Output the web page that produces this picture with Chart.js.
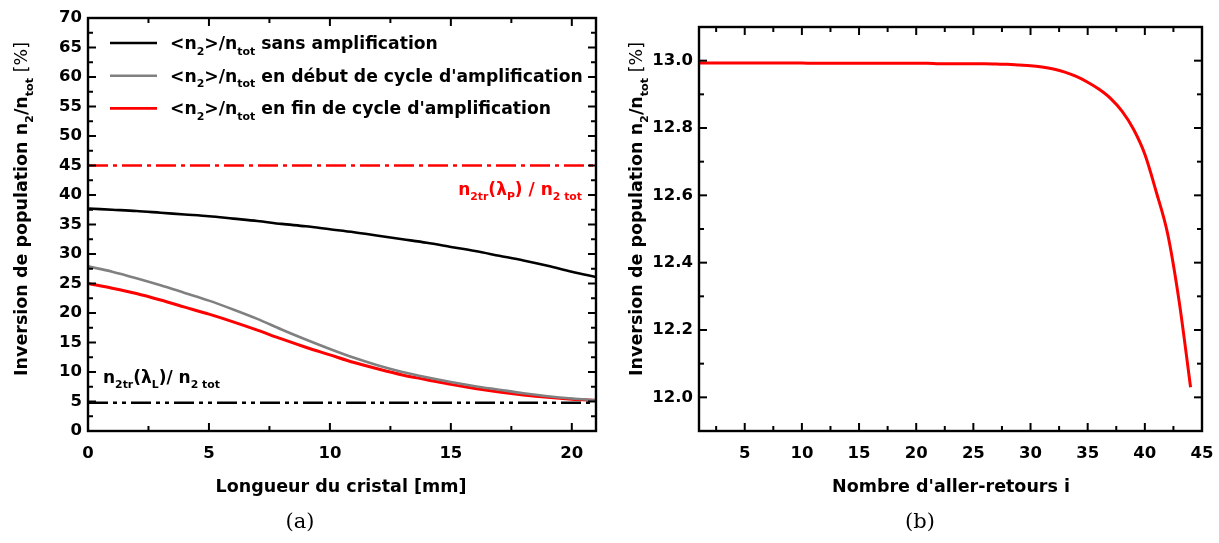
<!DOCTYPE html>
<html>
<head>
<meta charset="utf-8">
<script src="https://cdn.jsdelivr.net/npm/chart.js@4.4.0/dist/chart.umd.min.js"></script>
<style>
body { margin: 0; background: #fff; }
#page { position: relative; width: 1219px; height: 543px; }
canvas { position: absolute; top: 0; }
</style>
</head>
<body>
<div id="page">
  <canvas id="grapheA" width="610" height="543" style="left:0"></canvas>
  <canvas id="grapheB" width="609" height="543" style="left:610px"></canvas>
</div>
<script>
// (a) inversion le long du cristal
const longueur = [0, 1, 2, 3, 4, 5, 6, 7, 8, 9, 10, 11, 12, 13, 14, 15, 16, 17, 18, 19, 20, 21]
const sansAmplification = [37.7, 37.5, 37.3, 37.0, 36.7, 36.4, 36.0, 35.6, 35.1, 34.7, 34.2, 33.7, 33.1, 32.5, 31.9, 31.2, 30.5, 29.7, 28.9, 28.0, 27.0, 26.1]
const debutCycle = [27.9, 27.0, 25.9, 24.7, 23.4, 22.1, 20.6, 19.0, 17.2, 15.5, 13.9, 12.4, 11.1, 10.0, 9.1, 8.3, 7.6, 7.0, 6.4, 5.9, 5.5, 5.2]
const finCycle = [25.0, 24.2, 23.3, 22.2, 21.0, 19.8, 18.5, 17.1, 15.6, 14.2, 12.9, 11.6, 10.5, 9.5, 8.7, 7.9, 7.2, 6.6, 6.1, 5.7, 5.4, 5.2]
const seuilPompe = 45   // n2tr(lambda P) / n2 tot
const seuilLaser = 4.8  // n2tr(lambda L) / n2 tot

// (b) inversion en fonction du nombre d'aller-retours
const allerRetours = [1, 2, 3, 4, 5, 6, 7, 8, 9, 10, 11, 12, 13, 14, 15, 16, 17, 18, 19, 20, 21, 22, 23, 24, 25, 26, 27, 28, 29, 30, 31, 32, 33, 34, 35, 36, 37, 38, 39, 40, 41, 42, 43, 44]
const inversionB = [12.993, 12.993, 12.993, 12.993, 12.993, 12.993, 12.993, 12.993, 12.993, 12.993,
  12.992, 12.992, 12.992, 12.992, 12.992, 12.992, 12.992, 12.992, 12.992, 12.992,
  12.992, 12.991, 12.991, 12.991, 12.991, 12.991, 12.990, 12.989, 12.987, 12.985,
  12.981, 12.975, 12.966, 12.953, 12.936, 12.915, 12.888, 12.850, 12.797, 12.722,
  12.610, 12.485, 12.285, 12.030]

// graduations
const ticksAx = [0, 5, 10, 15, 20]
const mineursAx = [2.5, 7.5, 12.5, 17.5]
const ticksAy = [0, 5, 10, 15, 20, 25, 30, 35, 40, 45, 50, 55, 60, 65, 70]
const mineursAy = [2.5, 7.5, 12.5, 17.5, 22.5, 27.5, 32.5, 37.5, 42.5, 47.5, 52.5, 57.5, 62.5, 67.5]
const ticksBx = [5, 10, 15, 20, 25, 30, 35, 40, 45]
const mineursBx = [2.5, 7.5, 12.5, 17.5, 22.5, 27.5, 32.5, 37.5, 42.5]
const ticksBy = [12.0, 12.2, 12.4, 12.6, 12.8, 13.0]
const mineursBy = [12.1, 12.3, 12.5, 12.7, 12.9]

const POLICE = '"DejaVu Sans", "Liberation Sans", Arial, sans-serif'
const pts = (xs, ys) => xs.map((x, i) => ({ x: x, y: ys[i] }))

// texte avec indices : morceaux = [[texte, 'sub' | 'fin' | '']]
function ecrireRiche(ctx, morceaux, x, y, taille, align, couleur) {
  const mesures = morceaux.map(([txt, type]) => {
    const t = type === 'sub' ? taille * 0.64 : taille
    const poids = type === 'fin' ? 'normal' : 'bold'
    const police = poids + ' ' + t + 'px ' + POLICE
    ctx.font = police
    return { txt, police, dy: type === 'sub' ? taille * 0.32 : 0, w: ctx.measureText(txt).width }
  })
  const total = mesures.reduce((s, m) => s + m.w, 0)
  let cx = align === 'right' ? x - total : (align === 'center' ? x - total / 2 : x)
  ctx.textAlign = 'left'
  ctx.textBaseline = 'alphabetic'
  ctx.fillStyle = couleur || '#000'
  for (const m of mesures) {
    ctx.font = m.police
    ctx.fillText(m.txt, cx, y + m.dy)
    cx += m.w
  }
}

const titreY = [['Inversion de population n', ''], ['2', 'sub'], ['/n', ''], ['tot', 'sub'], [' [%]', 'fin']]

function pluginCadre(majX, minX, majY, minY, textes) {
  return {
    id: 'cadre',
    afterDatasetsDraw(chart) {
      const { ctx, chartArea: a, scales } = chart
      ctx.save()
      ctx.strokeStyle = '#000'
      ctx.lineWidth = 2
      const trait = (x1, y1, x2, y2) => { ctx.beginPath(); ctx.moveTo(x1, y1); ctx.lineTo(x2, y2); ctx.stroke() }
      for (const [vals, l] of [[majX, 8], [minX, 5]]) {
        for (const v of vals) {
          const p = scales.x.getPixelForValue(v)
          trait(p, a.bottom, p, a.bottom - l)
          trait(p, a.top, p, a.top + l)
        }
      }
      for (const [vals, l] of [[majY, 8], [minY, 5]]) {
        for (const v of vals) {
          const p = scales.y.getPixelForValue(v)
          trait(a.left, p, a.left + l, p)
          trait(a.right, p, a.right - l, p)
        }
      }
      ctx.lineWidth = 2.4
      ctx.strokeRect(a.left, a.top, a.right - a.left, a.bottom - a.top)
      ctx.restore()
    },
    afterDraw(chart) {
      chart.ctx.save()
      textes(chart)
      chart.ctx.restore()
    }
  }
}

const echelleX = (min, max, ticks) => ({
  type: 'linear', min: min, max: max,
  afterBuildTicks: s => { s.ticks = ticks.map(v => ({ value: v })) },
  afterFit: s => { s.height = 112; s.paddingLeft = 0; s.paddingRight = 0 },
  grid: { display: false, drawTicks: false },
  border: { display: false },
  ticks: { color: '#000', padding: 13, maxRotation: 0, font: { family: POLICE, size: 16.5, weight: 'bold' } }
})
const echelleY = (min, max, ticks, largeur, decimales) => ({
  type: 'linear', min: min, max: max,
  afterBuildTicks: s => { s.ticks = ticks.map(v => ({ value: v })) },
  afterFit: s => { s.width = largeur; s.paddingTop = 0; s.paddingBottom = 0 },
  grid: { display: false, drawTicks: false },
  border: { display: false },
  ticks: { color: '#000', padding: 6, font: { family: POLICE, size: 16.5, weight: 'bold' },
    callback: v => v.toFixed(decimales) }
})

const courbe = (data, couleur, extra) => Object.assign({
  data: data, borderColor: couleur, borderWidth: 2.6, pointRadius: 0,
  cubicInterpolationMode: 'monotone', fill: false
}, extra || {})

// ---------- graphe (a)
new Chart(document.getElementById('grapheA'), {
  type: 'line',
  data: {
    datasets: [
      courbe(pts([0, 21], [seuilPompe, seuilPompe]), '#ff0000', { borderDash: [20, 5, 4, 5] }),
      courbe(pts([0, 21], [seuilLaser, seuilLaser]), '#000', { borderDash: [20, 5, 4, 5, 4, 5] }),
      courbe(pts(longueur, sansAmplification), '#000'),
      courbe(pts(longueur, debutCycle), '#808080'),
      courbe(pts(longueur, finCycle), '#ff0000', { borderWidth: 3 })
    ]
  },
  options: {
    responsive: false, animation: false,
    layout: { padding: { top: 18, right: 14, left: 0, bottom: 0 } },
    plugins: { legend: { display: false }, tooltip: { enabled: false } },
    scales: { x: echelleX(0, 21, ticksAx), y: echelleY(0, 70, ticksAy, 88, 0) }
  },
  plugins: [pluginCadre(ticksAx, mineursAx, ticksAy, mineursAy, chart => {
    const ctx = chart.ctx
    const a = chart.chartArea
    // légende
    const lignes = [
      ['#000', [['<n', ''], ['2', 'sub'], ['>/n', ''], ['tot', 'sub'], [' sans amplification', '']]],
      ['#808080', [['<n', ''], ['2', 'sub'], ['>/n', ''], ['tot', 'sub'], [" en début de cycle d'amplification", '']]],
      ['#ff0000', [['<n', ''], ['2', 'sub'], ['>/n', ''], ['tot', 'sub'], [" en fin de cycle d'amplification", '']]]
    ]
    lignes.forEach(([c, txt], i) => {
      const y = a.top + 25 + i * 32.7
      ctx.strokeStyle = c
      ctx.lineWidth = 2.6
      ctx.beginPath(); ctx.moveTo(a.left + 22, y); ctx.lineTo(a.left + 69, y); ctx.stroke()
      ecrireRiche(ctx, txt, a.left + 82, y + 6, 17.2, 'left', '#000')
    })
    // seuils
    ecrireRiche(ctx, [['n', ''], ['2tr', 'sub'], ['(λ', ''], ['P', 'sub'], [') / n', ''], ['2 tot', 'sub']],
      a.right - 14, 195, 17, 'right', '#ff0000')
    ecrireRiche(ctx, [['n', ''], ['2tr', 'sub'], ['(λ', ''], ['L', 'sub'], [')/ n', ''], ['2 tot', 'sub']],
      a.left + 15, 383, 17, 'left', '#000')
    // titres
    ecrireRiche(ctx, [['Longueur du cristal [mm]', '']], 341, 492, 17.5, 'center', '#000')
    ctx.save()
    ctx.translate(27, 209)
    ctx.rotate(-Math.PI / 2)
    ecrireRiche(ctx, titreY, 0, 0, 17.5, 'center', '#000')
    ctx.restore()
    ctx.font = '21px "DejaVu Serif", "Liberation Serif", serif'
    ctx.fillStyle = '#000'
    ctx.textAlign = 'center'
    ctx.textBaseline = 'middle'
    ctx.fillText('(a)', 300, 523)
  })]
})

// ---------- graphe (b)
new Chart(document.getElementById('grapheB'), {
  type: 'line',
  data: {
    datasets: [courbe(pts(allerRetours, inversionB), '#ff0000', { borderWidth: 3 })]
  },
  options: {
    responsive: false, animation: false,
    layout: { padding: { top: 27, right: 17, left: 0, bottom: 0 } },
    plugins: { legend: { display: false }, tooltip: { enabled: false } },
    scales: { x: echelleX(1, 45, ticksBx), y: echelleY(11.9, 13.1, ticksBy, 89, 1) }
  },
  plugins: [pluginCadre(ticksBx, mineursBx, ticksBy, mineursBy, chart => {
    const ctx = chart.ctx
    ecrireRiche(ctx, [["Nombre d'aller-retours i", '']], 341, 492, 17.5, 'center', '#000')
    ctx.save()
    ctx.translate(32, 209)
    ctx.rotate(-Math.PI / 2)
    ecrireRiche(ctx, titreY, 0, 0, 17.5, 'center', '#000')
    ctx.restore()
    ctx.font = '21px "DejaVu Serif", "Liberation Serif", serif'
    ctx.fillStyle = '#000'
    ctx.textAlign = 'center'
    ctx.textBaseline = 'middle'
    ctx.fillText('(b)', 310, 523)
  })]
})
</script>
</body>
</html>
